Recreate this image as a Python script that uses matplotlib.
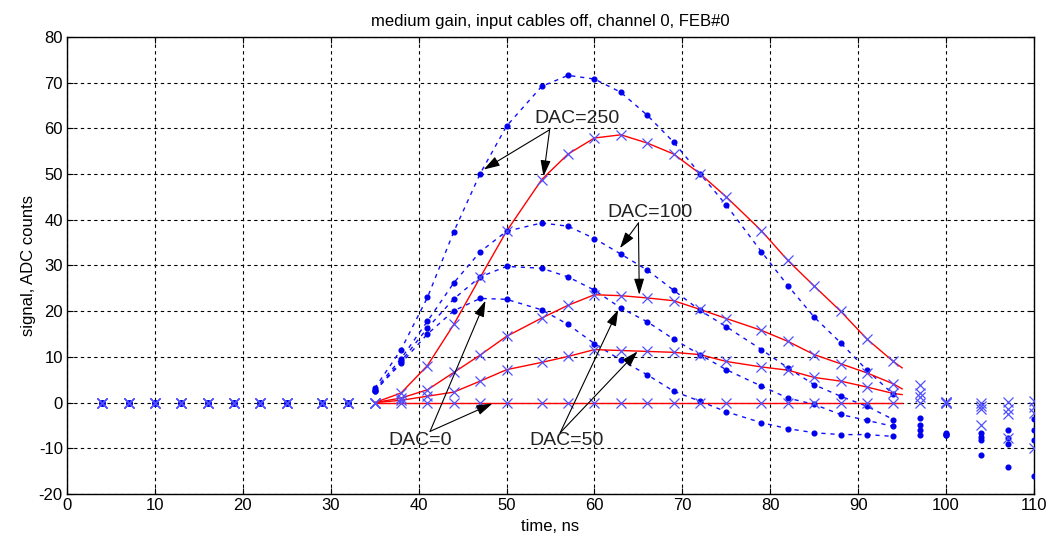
import matplotlib
matplotlib.use("Agg")
import matplotlib.pyplot as plt

# --- data ---
t = [4, 7, 10, 13, 16, 19, 22, 25, 29, 32,
     35, 38, 41, 44, 47, 50, 54, 57, 60, 63, 66, 69, 72, 75, 79, 82, 85, 88, 91, 94,
     97, 100, 104, 107, 110]

ped = [0, 0, 0, 0, 0, 0, 0, 0, 0, 0]

# blue dots (dashed curves)
dot_250 = ped + [3.1, 11.6, 23.0, 37.4, 50.1, 60.5, 69.2, 71.6, 70.8, 67.9, 62.9, 57.0, 50.1, 43.2,
                 33.0, 25.6, 18.7, 13.1, 7.1, 1.8] + [-3.4, -6.6, -6.6, -6.1, -3.6]
dot_100 = ped + [2.8, 9.6, 17.8, 26.2, 33.0, 37.5, 39.3, 38.6, 35.9, 32.5, 29.0, 24.6, 20.2, 16.6,
                 11.6, 7.6, 3.9, 1.4, -0.8, -3.7] + [-5.0, -6.8, -7.5, -7.7, -6.1]
dot_50 = ped + [2.5, 9.0, 16.3, 22.7, 27.5, 29.8, 29.4, 27.5, 24.6, 20.7, 17.7, 13.9, 10.5, 7.2,
                3.6, 1.0, -0.4, -2.6, -3.9, -5.2] + [-6.1, -7.0, -8.2, -9.0, -8.1]
dot_0 = ped + [2.5, 8.6, 15.0, 20.1, 22.8, 22.6, 20.3, 17.1, 12.9, 9.3, 6.1, 2.5, 0.3, -2.0,
               -4.4, -5.7, -6.6, -7.0, -7.0, -7.4] + [-7.0, -7.1, -11.4, -14.1, -16.1]

# blue crosses (red fitted curves)
x_250 = ped + [0, 2.1, 8.1, 17.1, 27.4, 37.5, 48.8, 54.4, 57.9, 58.6, 56.8, 54.4, 50.1, 45.0,
               37.6, 31.1, 25.5, 20.0, 13.9, 9.0] + [3.9, 0.2, 0, 0.1, 0.3]
x_100 = ped + [0, 1.0, 2.8, 6.6, 10.4, 14.5, 18.5, 21.3, 23.6, 23.4, 22.9, 22.3, 20.4, 18.4,
               15.8, 13.4, 10.5, 8.5, 6.5, 4.1] + [2.1, 0.1, -0.8, -1.4, -0.9]
x_50 = ped + [0, 0.5, 1.4, 2.3, 4.7, 7.2, 8.8, 10.1, 11.6, 11.4, 11.2, 11.0, 10.5, 9.0,
              7.8, 7.1, 5.5, 4.7, 3.4, 2.0] + [1.2, 0, -1.5, -2.6, -2.3]
x_0 = ped + [0] * 20 + [0, 0, -4.8, -7.8, -9.9]

red_end_t = 95
red_end = [7.6, 3.0, 1.75, 0]

dot_series = [dot_250, dot_100, dot_50, dot_0]
x_series = [x_250, x_100, x_50, x_0]

# annotations: label, text pos, arrow tail, arrow tips
notes = [
    ("DAC=250", (58.0, 62.1), (54.9, 59.7), [(47.4, 51.0), (54.2, 49.5)]),
    ("DAC=100", (66.3, 41.6), (65.0, 39.3), [(62.9, 33.8), (65.1, 23.6)]),
    ("DAC=0", (40.2, -8.2), (41.3, -6.3), [(47.6, 22.3), (48.4, -0.2)]),
    ("DAC=50", (56.8, -8.2), (56.1, -6.6), [(62.7, 20.3), (64.9, 11.2)]),
]

plt.rcParams['font.family'] = ['Liberation Sans', 'DejaVu Sans']
plt.rcParams['axes.unicode_minus'] = False

fig = plt.figure(figsize=(10.56, 5.49), dpi=100)
ax = fig.add_axes([67 / 1056, 1 - 494 / 549, (1034 - 67) / 1056, (494 - 37) / 549])

i0 = t.index(35)
i1 = t.index(94) + 1
t_fit = t[i0:i1]

for ys in dot_series:
    ax.plot(t_fit, ys[i0:i1], color='#1010ff', lw=1.0, ls=(0, (3, 3.5)), zorder=3)
    ax.plot(t, ys, ls='none', marker='o', ms=3.4, color='#0000ee', zorder=4)

for ys, ye in zip(x_series, red_end):
    ax.plot(t_fit + [red_end_t], ys[i0:i1] + [ye], color='#ff0000', lw=1.0, zorder=3)
    ax.plot(t, ys, ls='none', marker='x', ms=6.5, mew=0.9, color='#5050ff', zorder=4)

for label, tpos, tail, tips in notes:
    ax.text(tpos[0], tpos[1], label, ha='center', va='center', fontsize=14,
            color='#222222', zorder=6)
    for tip in tips:
        ax.annotate('', xy=tip, xytext=tail,
                    arrowprops=dict(arrowstyle='-|>,head_length=0.7,head_width=0.22',
                                    color='black', lw=0.8, shrinkA=0, shrinkB=0,
                                    mutation_scale=14), zorder=6)

ax.set_xlim(0, 110)
ax.set_ylim(-20, 80)
ax.set_xticks(range(0, 111, 10))
ax.set_yticks(range(-20, 81, 10))
ax.grid(True, color='black', ls=(0, (3, 3)), lw=0.8)
ax.set_axisbelow(True)
ax.tick_params(direction='in', length=4, top=True, right=True, labelsize=12, pad=3)
for s in ax.spines.values():
    s.set_linewidth(1.0)

ax.set_title('medium gain, input cables off, channel 0, FEB#0', fontsize=12, pad=8)
ax.set_xlabel('time, ns', fontsize=12, labelpad=4)
ax.set_ylabel('signal, ADC counts', fontsize=12, labelpad=2)

fig.savefig('out.png', dpi=100)
